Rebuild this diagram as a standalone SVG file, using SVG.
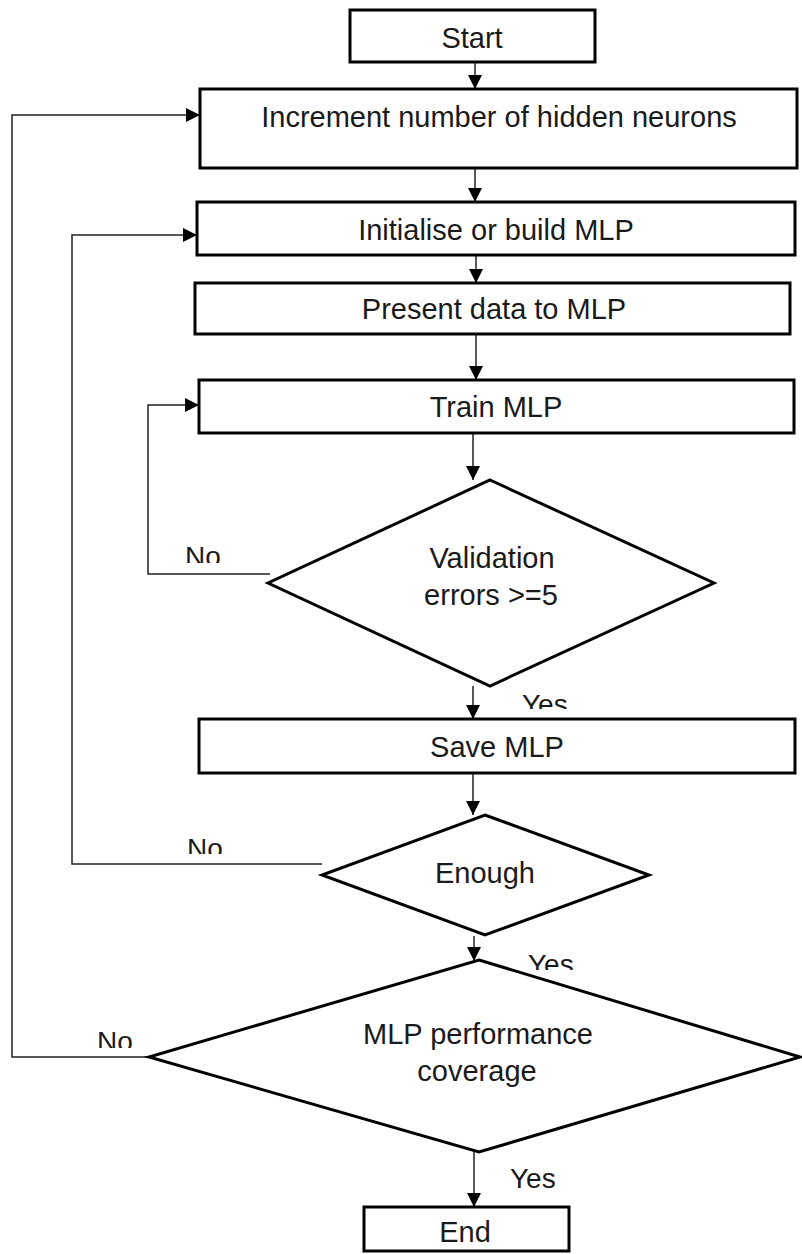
<svg xmlns="http://www.w3.org/2000/svg" width="802" height="1254" viewBox="0 0 802 1254">
  <style>
    .box { fill: #ffffff; stroke: #000000; stroke-width: 3; }
    .dec { fill: #ffffff; stroke: #000000; stroke-width: 3; stroke-linejoin: miter; }
    .lbl { font-family: "Liberation Sans", Arial, sans-serif; font-size: 29px; fill: #1a1a1a; text-anchor: middle; }
    .tag { font-family: "Liberation Sans", Arial, sans-serif; font-size: 28px; fill: #1a1a1a; }
    .wire { fill: none; stroke: #222222; stroke-width: 1.5; }
  </style>
  <defs>
    <marker id="arrow" markerUnits="userSpaceOnUse" markerWidth="14" markerHeight="14" viewBox="0 0 12 12" refX="12" refY="6" orient="auto">
      <path d="M0,0 L12,6 L0,12 Z" fill="#000000"/>
    </marker>
    <!-- branch labels are cut off along their lower edge -->
    <clipPath id="cutNo1"><rect x="170" y="530" width="70" height="33"/></clipPath>
    <clipPath id="cutYes1"><rect x="510" y="680" width="70" height="29"/></clipPath>
    <clipPath id="cutNo2"><rect x="170" y="820" width="70" height="34"/></clipPath>
    <clipPath id="cutYes2"><rect x="515" y="940" width="70" height="30"/></clipPath>
    <clipPath id="cutNo3"><rect x="85" y="1015" width="70" height="33"/></clipPath>
  </defs>

  <rect width="802" height="1254" fill="#ffffff"/>

  <g id="connectors">
    <line class="wire" x1="475" y1="62" x2="475" y2="89" marker-end="url(#arrow)"/>
    <line class="wire" x1="475" y1="168" x2="475" y2="202" marker-end="url(#arrow)"/>
    <line class="wire" x1="476" y1="255" x2="476" y2="283" marker-end="url(#arrow)"/>
    <line class="wire" x1="476" y1="334" x2="476" y2="380" marker-end="url(#arrow)"/>
    <line class="wire" x1="473" y1="433" x2="473" y2="480" marker-end="url(#arrow)"/>
    <line class="wire" x1="473" y1="686" x2="473" y2="719" marker-end="url(#arrow)"/>
    <line class="wire" x1="473" y1="773" x2="473" y2="815" marker-end="url(#arrow)"/>
    <line class="wire" x1="474" y1="936" x2="474" y2="961" marker-end="url(#arrow)"/>
    <line class="wire" x1="474" y1="1152" x2="474" y2="1207" marker-end="url(#arrow)"/>
    <!-- loop back to training -->
    <polyline class="wire" points="270,574 148,574 148,405 199,405" marker-end="url(#arrow)"/>
    <!-- loop back to initialise -->
    <polyline class="wire" points="322,864 72,864 72,235 197,235" marker-end="url(#arrow)"/>
    <!-- loop back to increment -->
    <polyline class="wire" points="149,1057 12,1057 12,115 200,115" marker-end="url(#arrow)"/>
  </g>

  <g id="start">
    <rect class="box" x="350" y="10" width="245" height="52"/>
    <text class="lbl" x="472" y="48">Start</text>
  </g>

  <g id="increment">
    <rect class="box" x="200" y="89" width="597" height="79"/>
    <text class="lbl" x="499" y="127">Increment number of hidden neurons</text>
  </g>

  <g id="initialise">
    <rect class="box" x="197" y="202" width="598" height="53"/>
    <text class="lbl" x="496" y="240">Initialise or build MLP</text>
  </g>

  <g id="present">
    <rect class="box" x="195" y="283" width="595" height="51"/>
    <text class="lbl" x="494" y="319">Present data to MLP</text>
  </g>

  <g id="train">
    <rect class="box" x="199" y="380" width="595" height="53"/>
    <text class="lbl" x="496" y="417">Train MLP</text>
  </g>

  <g id="validation">
    <polygon class="dec" points="490,480 714,583 490,686 268,583"/>
    <text class="lbl" x="492" y="568">Validation</text>
    <text class="lbl" x="491" y="605">errors &gt;=5</text>
  </g>

  <g id="save">
    <rect class="box" x="199" y="719" width="596" height="54"/>
    <text class="lbl" x="497" y="757">Save MLP</text>
  </g>

  <g id="enough">
    <polygon class="dec" points="485,815 649,875 485,935 322,875"/>
    <text class="lbl" x="485" y="883">Enough</text>
  </g>

  <g id="performance">
    <polygon class="dec" points="479,960 800,1057 479,1152 149,1057"/>
    <text class="lbl" x="478" y="1044">MLP performance</text>
    <text class="lbl" x="477" y="1081">coverage</text>
  </g>

  <g id="end">
    <rect class="box" x="364" y="1207" width="205" height="44"/>
    <text class="lbl" x="465" y="1242">End</text>
  </g>

  <g id="branch-labels">
    <text class="tag" x="185" y="566" clip-path="url(#cutNo1)">No</text>
    <text class="tag" x="522" y="714" clip-path="url(#cutYes1)">Yes</text>
    <text class="tag" x="187" y="858" clip-path="url(#cutNo2)">No</text>
    <text class="tag" x="528" y="974" clip-path="url(#cutYes2)">Yes</text>
    <text class="tag" x="97" y="1051" clip-path="url(#cutNo3)">No</text>
    <text class="tag" x="510" y="1188">Yes</text>
  </g>
</svg>
